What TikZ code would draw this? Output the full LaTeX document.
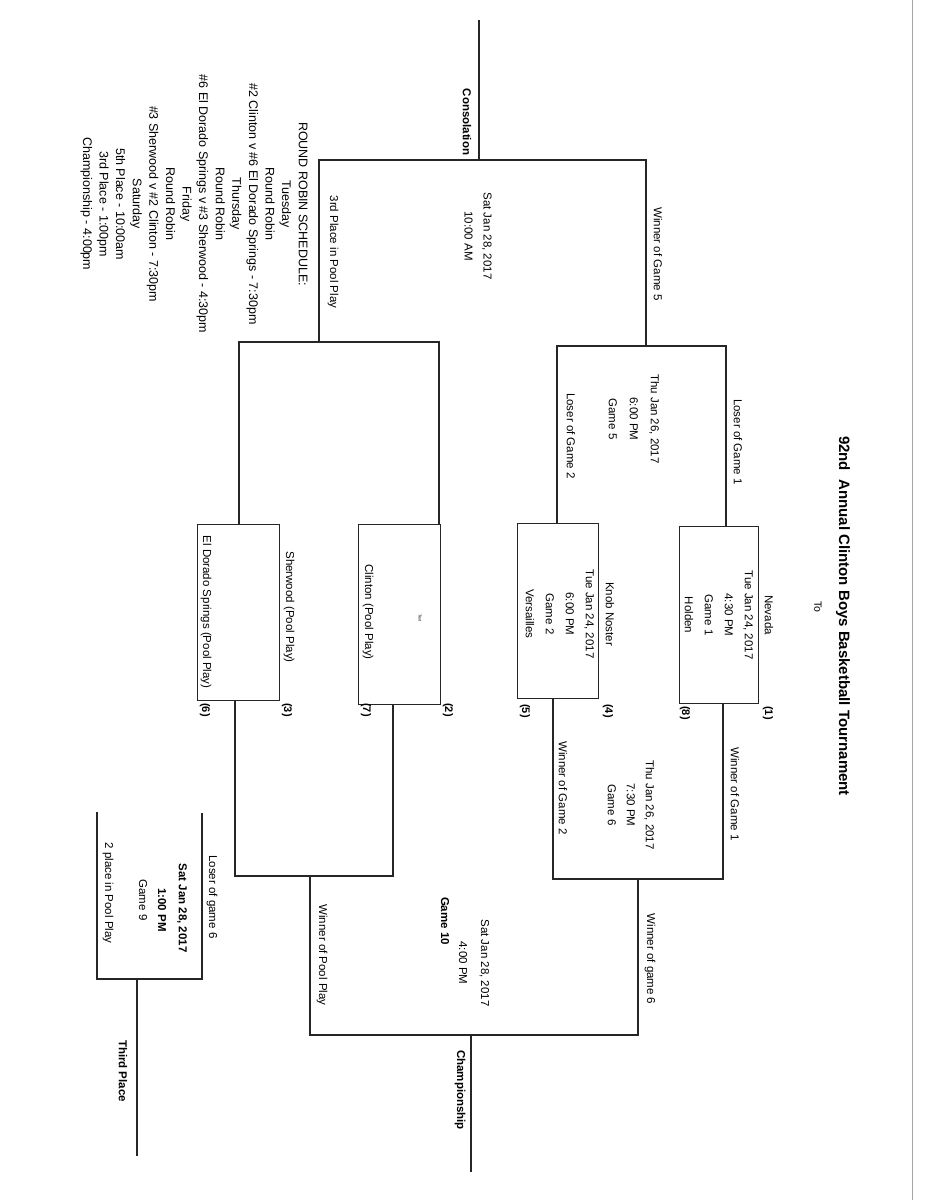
\documentclass[tikz,border=0pt]{standalone}
\usepackage{fontspec}
\setmainfont{Liberation Sans}
\begin{document}
\begin{tikzpicture}[x=1pt,y=-1pt,
  br/.style={line width=1.3pt,black!85},
  box/.style={draw,line width=1.3pt,black!85,anchor=north west,inner sep=0},
  lbl/.style={rotate=-90,font=\fontsize{11.5}{13}\selectfont,inner sep=0},
  multi/.style={rotate=-90,align=center,inner sep=0,font=\fontsize{11.5}{20}\selectfont},
  seed/.style={rotate=-90,font=\fontsize{11}{13}\selectfont\bfseries,inner sep=0}]
\useasboundingbox (0,0) rectangle (927,1200);
\fill[white] (0,0) rectangle (927,1200);
\draw[black!35,line width=1pt] (912,0) -- (912,1200);
% title
\node[rotate=-90,inner sep=0,font=\fontsize{15}{17}\selectfont\bfseries] (title) at (843,616) {92nd\ \ Annual Clinton Boys Basketball Tournament};
\node[lbl,font=\fontsize{10.5}{12}\selectfont] (to) at (818,607) {To};
% boxes
\node[box,minimum width=79pt,minimum height=177pt] (b1) at (679,526) {};
\node[box,minimum width=81pt,minimum height=175pt] (b2) at (517,523) {};
\node[box,minimum width=82pt,minimum height=180pt] (b3) at (358,524) {};
\node[box,minimum width=82pt,minimum height=176pt] (b4) at (197,524) {};
% box texts
\node[multi] (t1) at (729,615) {Nevada\\Tue Jan 24, 2017\\4:30 PM\\Game 1\\Holden};
\node[multi] (t2) at (570,614) {Knob Noster\\Tue Jan 24, 2017\\6:00 PM\\Game 2\\Versailles};
\node[lbl] (t3) at (368,612) {Clinton (Pool Play)};
\node[rotate=-90,font=\fontsize{4}{5}\selectfont] (t3b) at (420,618) {Text};
\node[lbl] (t4a) at (289,607) {Sherwood (Pool Play)};
\node[lbl] (t4b) at (206,612) {El Dorado Springs (Pool Play)};
% seeds
\node[seed] (s1) at (768,713) {(1)};
\node[seed] (s8) at (685,713) {(8)};
\node[seed] (s4) at (608,711) {(4)};
\node[seed] (s5) at (525,711) {(5)};
\node[seed] (s2) at (448,710) {(2)};
\node[seed] (s7) at (366,710) {(7)};
\node[seed] (s3) at (287,710) {(3)};
\node[seed] (s6) at (205,710) {(6)};
% lower bracket (winners)
\draw[br] (723,703) -- (723,879) -- (553,879) -- (553,698);
\draw[br] (638,879) -- (638,1035) -- (310,1035) -- (310,876);
\draw[br] (393,704) -- (393,876) -- (235,876) -- (235,700);
\coordinate (champ) at (471,1172);
\draw[br] (471,1035) -- (champ);
\node[lbl] (wg1) at (735,794) {Winner of Game 1};
\node[lbl] (wg2) at (563,788) {Winner of Game 2};
\node[multi,font=\fontsize{11.5}{19}\selectfont] (g6) at (631,805) {Thu Jan 26, 2017\\7:30 PM\\Game 6};
\node[lbl] (wg6) at (650,959) {Winner of game 6};
\node[lbl] (wpp) at (322,955) {Winner of Pool Play};
\node[multi,font=\fontsize{11.5}{22}\selectfont] (g10) at (474,963) {Sat Jan 28, 2017\\4:00 PM};
\node[lbl,font=\fontsize{11.5}{13}\selectfont\bfseries] (g10b) at (445,921) {Game 10};
\node[lbl,font=\fontsize{11.5}{13}\selectfont\bfseries] (chl) at (460,1090) {Championship};
% third place
\draw[br] (202,813) -- (202,979) -- (97,979) -- (97,812);
\coordinate (third) at (137,1156);
\draw[br] (137,979) -- (third);
\node[lbl] (l6) at (212,897) {Loser of game 6};
\node[lbl,font=\fontsize{11.5}{13}\selectfont\bfseries] (d9) at (182,908) {Sat Jan 28, 2017};
\node[lbl,font=\fontsize{11.5}{13}\selectfont\bfseries] (h9) at (162,910) {1:00 PM};
\node[lbl] (g9) at (143,900) {Game 9};
\node[lbl] (pp2) at (108,893) {2 place in Pool Play};
\node[lbl,font=\fontsize{11.5}{13}\selectfont\bfseries] (tpl) at (123,1071) {Third Place};
% upper bracket (consolation)
\draw[br] (726,526) -- (726,346) -- (557,346) -- (557,523);
\draw[br] (439,524) -- (439,342) -- (239,342) -- (239,524);
\draw[br] (646,346) -- (646,160) -- (319,160) -- (319,342);
\coordinate (cons) at (479,20);
\draw[br] (479,160) -- (cons);
\node[lbl,font=\fontsize{11.5}{13}\selectfont\bfseries] (consl) at (467,122) {Consolation};
\node[multi,font=\fontsize{11.5}{19}\selectfont] (g7) at (478,236) {Sat Jan 28, 2017\\10:00 AM};
\node[lbl] (wg5) at (658,254) {Winner of Game 5};
\node[lbl] (p3) at (333,252) {3rd Place in Pool Play};
\node[multi,font=\fontsize{11.5}{21}\selectfont] (g5) at (634,419) {Thu Jan 26, 2017\\6:00 PM\\Game 5};
\node[lbl] (lg1) at (738,442) {Loser of Game 1};
\node[lbl] (lg2) at (571,436) {Loser of Game 2};
% schedule
\node[rotate=-90,align=center,inner sep=0,font=\fontsize{12.5}{16.6}\selectfont] (sched) at (194,204) {ROUND ROBIN SCHEDULE:\\Tuesday\\Round Robin\\\#2 Clinton v \#6 El Dorado Springs - 7:30pm\\Thursday\\Round Robin\\\#6 El Dorado Springs v \#3 Sherwood - 4:30pm\\Friday\\Round Robin\\\#3 Sherwood v \#2 Clinton - 7:30pm\\Saturday\\5th Place - 10:00am\\3rd Place - 1:00pm\\Championship - 4:00pm};
\end{tikzpicture}
\end{document}
